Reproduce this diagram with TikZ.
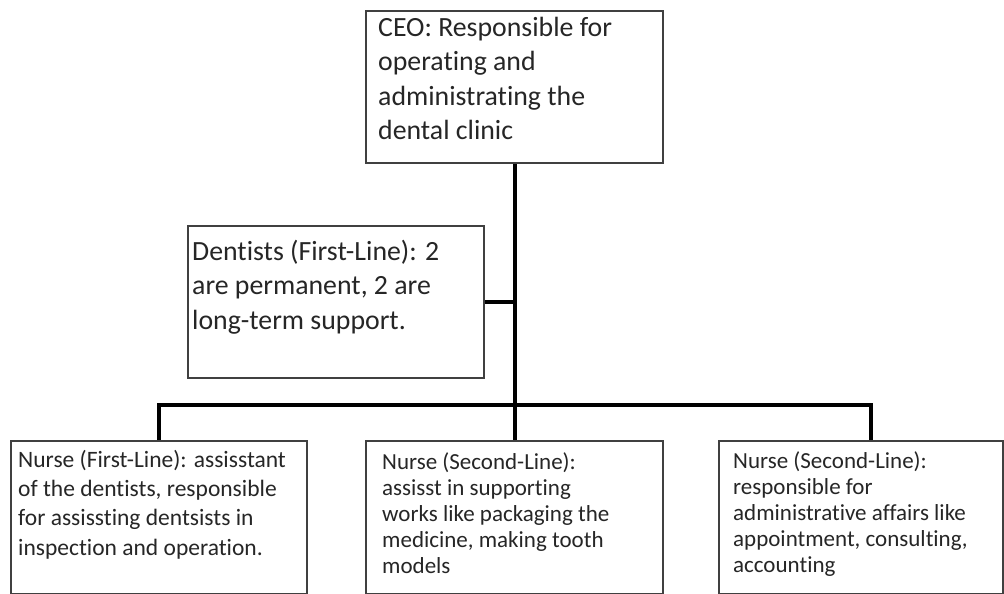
\documentclass[tikz,border=0pt]{standalone}
\usepackage{fontspec}
\setmainfont{Carlito}[Ligatures=NoCommon]
\usepackage{tikz}
\usetikzlibrary{positioning}
\definecolor{boxline}{RGB}{64,64,64}
\tikzset{orgbox/.style={rectangle, draw=boxline, line width=2pt, fill=white, anchor=north west, inner sep=0pt},
  boxtext/.style={anchor=base west, align=left, inner sep=0pt, text=black!85},
  link/.style={line width=4pt, black}}
\newcommand{\bigtxt}{\fontsize{27.8}{34.5}\selectfont}
\newcommand{\midtxt}{\fontsize{23.5}{29.3}\selectfont}
\newcommand{\smalltxt}{\fontsize{23}{25.8}\selectfont}

\begin{document}
\begin{tikzpicture}[x=1pt,y=-1pt]
\useasboundingbox (0,0) rectangle (1004,594);
% boxes
\node (ceo) [orgbox, minimum width=297pt, minimum height=152pt] at (365,10) {};
\node (dent) [orgbox, minimum width=296pt, minimum height=152pt] at (187,225) {};
\node (n1) [orgbox, minimum width=296pt, minimum height=153pt] at (10,440) {};
\node (n2) [orgbox, minimum width=297pt, minimum height=153pt] at (365,440) {};
\node (n3) [orgbox, minimum width=284pt, minimum height=153pt] at (718,440) {};
% connectors
\coordinate (bus) at (513.5,405);
\draw[link] (ceo.south) -- (n2.north);
\draw[link] (dent.east) -- (dent.east -| ceo.south);
\draw[link] (n1.north) -- (n1.north |- bus) -- ([xshift=10pt]n3.north |- bus) -- ([xshift=10pt]n3.north);
% texts (anchored on the last line)
\node (ceotxt) [boxtext, font=\bigtxt] at (378,139.5) {CEO: Responsible for\\operating and\\administrating the\\dental clinic};
\node (denttxt) [boxtext, font=\bigtxt] at (192,329) {Dentists (First-Line): 2\\are permanent, 2 are\\long-term support.};
\node (n1txt) [boxtext, font=\midtxt] at (18,555) {Nurse (First-Line): assisstant\\of the dentists, responsible\\for assissting dentsists in\\inspection and operation.};
\node (n2txt) [boxtext, font=\smalltxt] at (382,573) {Nurse (Second-Line):\\assisst in supporting\\works like packaging the\\medicine, making tooth\\models};
\node (n3txt) [boxtext, font=\smalltxt] at (733,572) {Nurse (Second-Line):\\responsible for\\administrative affairs like\\appointment, consulting,\\accounting};
\end{tikzpicture}
\end{document}
